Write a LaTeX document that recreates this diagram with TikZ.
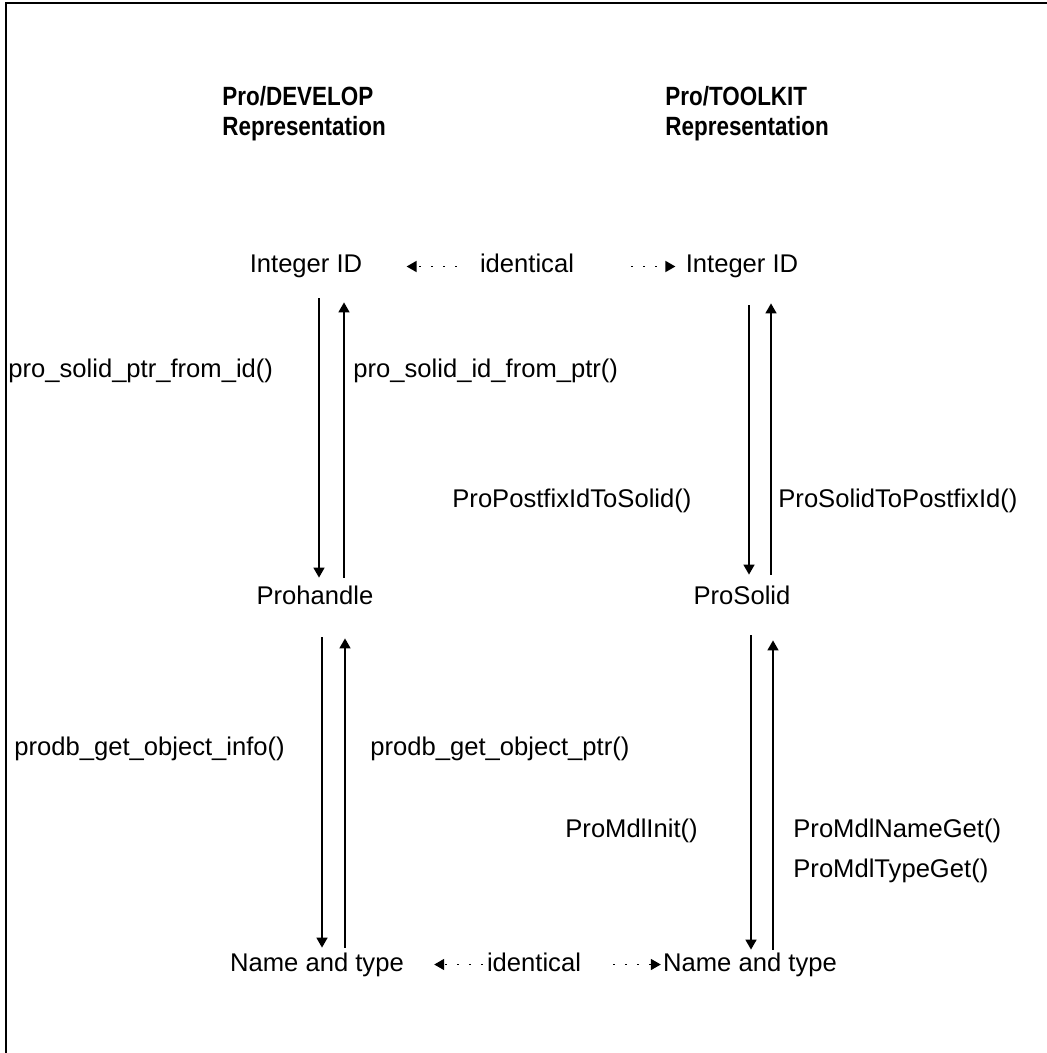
\documentclass[tikz,border=0pt]{standalone}
\usepackage{fontspec}
\setmainfont{Liberation Sans}
\newfontfamily\headfont[FakeStretch=0.85]{Liberation Sans}
\usetikzlibrary{arrows.meta}

\begin{document}
\begin{tikzpicture}[x=0.5pt, y=-0.5pt, every node/.style={font=\fontsize{12.8}{15}\selectfont},
	item/.style={inner sep=0pt, text height=9pt, text depth=2.5pt},
	head/.style={anchor=north west, align=left, inner sep=0pt, font=\headfont\bfseries\fontsize{13.2}{15}\selectfont},
	>={Triangle[length=5pt,width=5.5pt]},
	link/.style={->, line width=0.8pt},
	same/.style={->, line width=0.8pt, dash pattern=on 1pt off 5pt}]
	\useasboundingbox (0,0) rectangle (1047,1053);
	\draw[line width=1pt] (6,1053) -- (6,3) -- (1047,3);
	\node[head] (hdev) at (222,85.5) {Pro/DEVELOP\\Representation};
	\node[head] (htk) at (665,85.5) {Pro/TOOLKIT\\Representation};
	\node[item] (lid) at (306,266.5) {Integer ID};
	\node[item] (tidl) at (527,266.5) {identical};
	\node[item] (rid) at (742,266.5) {Integer ID};
	\node[item] (lph) at (315,597.5) {Prohandle};
	\node[item] (rps) at (742,597.5) {ProSolid};
	\node[item] (lnt) at (317,964.5) {Name and type};
	\node[item] (bidl) at (534,964.5) {identical};
	\node[item] (rnt) at (750,964.5) {Name and type};
	\node[item, anchor=west] (ptrid) at (8,371) {pro\_solid\_ptr\_from\_id()};
	\node[item, anchor=west] (idptr) at (353,371) {pro\_solid\_id\_from\_ptr()};
	\node[item, anchor=west] (pfsol) at (452,501) {ProPostfixIdToSolid()};
	\node[item, anchor=west] (solpf) at (778,501) {ProSolidToPostfixId()};
	\node[item, anchor=west] (objinfo) at (14,749) {prodb\_get\_object\_info()};
	\node[item, anchor=west] (objptr) at (370,749) {prodb\_get\_object\_ptr()};
	\node[item, anchor=west] (mdlinit) at (565,831) {ProMdlInit()};
	\node[item, anchor=west] (mdlname) at (793,831) {ProMdlNameGet()};
	\node[item, anchor=west] (mdltype) at (793,871) {ProMdlTypeGet()};
	\draw[link, shorten <=10pt, shorten >=4pt] ([xshift=6.5pt]lid.south) -- ([xshift=6.5pt]lid.south |- lph.north);
	\draw[link, shorten <=4pt, shorten >=12pt] ([xshift=19pt]lid.south |- lph.north) -- ([xshift=19pt]lid.south);
	\draw[link, shorten <=13.5pt, shorten >=5.5pt] ([xshift=3.5pt]rid.south) -- ([xshift=3.5pt]rid.south |- rps.north);
	\draw[link, shorten <=5.5pt, shorten >=12.5pt] ([xshift=14.5pt]rid.south |- rps.north) -- ([xshift=14.5pt]rid.south);
	\draw[link, shorten <=14pt, shorten >=2.5pt] ([xshift=3.5pt]lph.south) -- ([xshift=3.5pt]lph.south |- lnt.north);
	\draw[link, shorten <=2.5pt, shorten >=14.5pt] ([xshift=15pt]lph.south |- lnt.north) -- ([xshift=15pt]lph.south);
	\draw[link, shorten <=13pt, shorten >=1.5pt] ([xshift=4.5pt]rps.south) -- ([xshift=4.5pt]rps.south |- rnt.north);
	\draw[link, shorten <=1.5pt, shorten >=15.5pt] ([xshift=15.5pt]rps.south |- rnt.north) -- ([xshift=15.5pt]rps.south);
	\draw[same, shorten <=11.5pt, shorten >=22pt] (tidl.west) -- (lid.east);
	\draw[same, shorten <=28.5pt, shorten >=5pt] (tidl.east) -- (rid.west);
	\draw[same, shorten <=2pt, shorten >=15pt] (bidl.west) -- (lnt.east);
	\draw[same, shorten <=16pt, shorten >=1pt] (bidl.east) -- (rnt.west);
\end{tikzpicture}
\end{document}
